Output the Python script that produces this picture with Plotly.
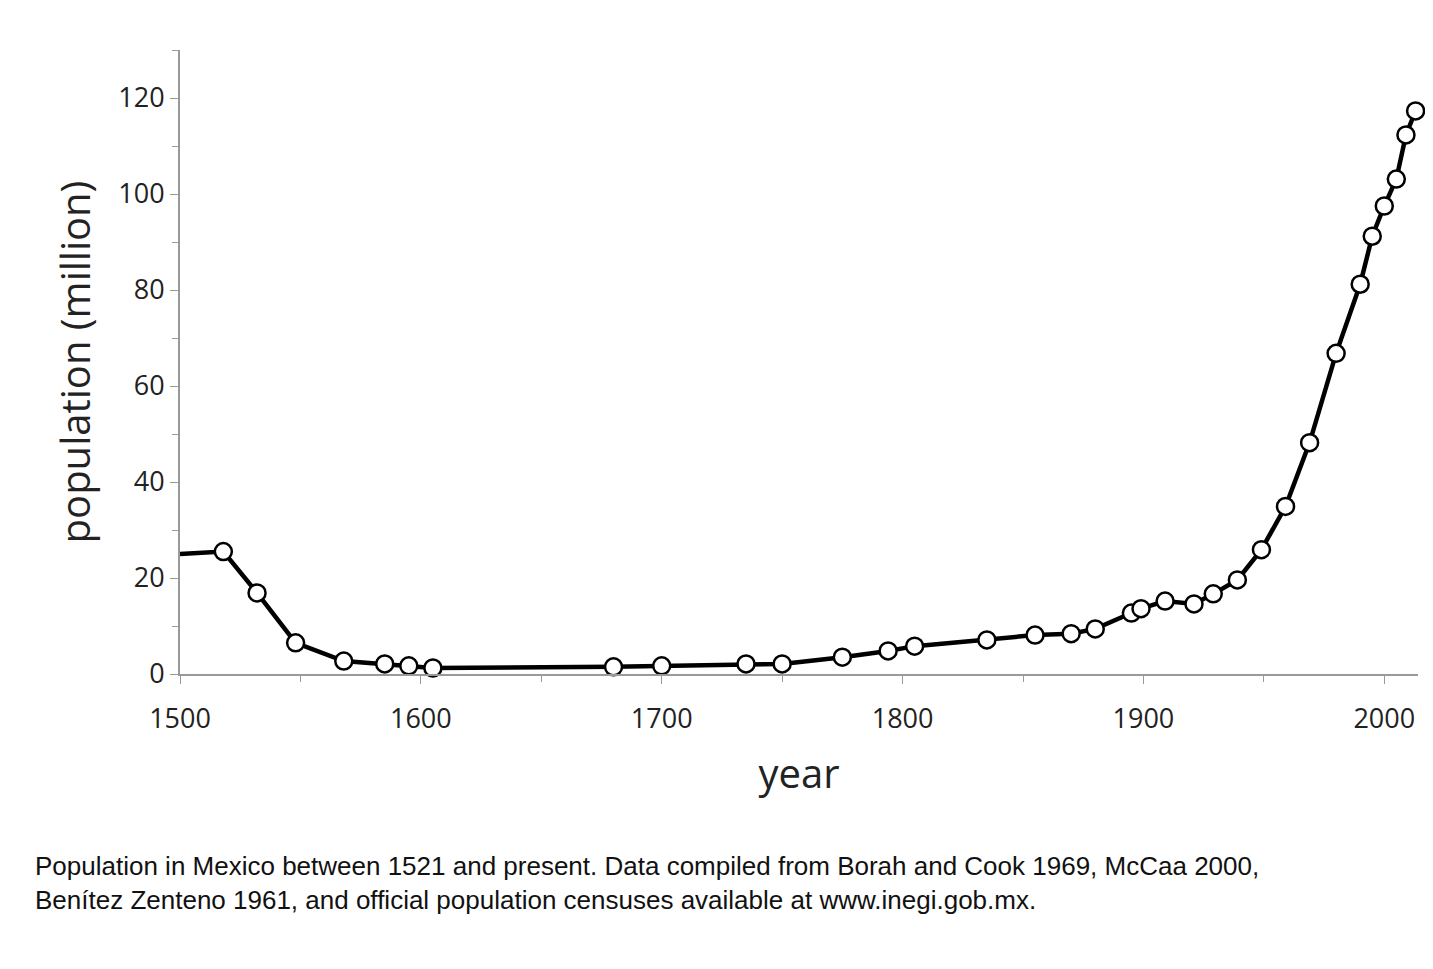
import plotly.graph_objects as go

years = [1500, 1518, 1532, 1548, 1568, 1585, 1595, 1605, 1680, 1700, 1735, 1750,
         1775, 1794, 1805, 1835, 1855, 1870, 1880, 1895, 1899, 1909, 1921, 1929,
         1939, 1949, 1959, 1969, 1980, 1990, 1995, 2000, 2005, 2009, 2013]
population = [25.0, 25.5, 16.9, 6.5, 2.7, 2.1, 1.7, 1.25, 1.5, 1.7, 2.1, 2.1,
              3.5, 4.8, 5.8, 7.1, 8.1, 8.4, 9.4, 12.7, 13.6, 15.2, 14.6, 16.7,
              19.6, 25.9, 34.9, 48.2, 66.8, 81.2, 91.2, 97.5, 103.1, 112.3, 117.3]

caption = ("Population in Mexico between 1521 and present. Data compiled from Borah and Cook 1969, McCaa 2000,<br>"
           "Benítez Zenteno 1961, and official population censuses available at www.inegi.gob.mx.")

fig = go.Figure()
# line from the axis edge, then markers only for the data points
fig.add_trace(go.Scatter(x=years, y=population, mode="lines",
                         line=dict(color="black", width=4.5), cliponaxis=False))
fig.add_trace(go.Scatter(x=years[1:], y=population[1:], mode="markers",
                         marker=dict(symbol="circle", size=17, color="white", opacity=1,
                                     line=dict(color="black", width=2.5)),
                         cliponaxis=False))

fig.update_layout(
    width=1433, height=969,
    paper_bgcolor="white", plot_bgcolor="white",
    margin=dict(l=172, r=23, t=42, b=303),
    showlegend=False,
    font=dict(family="Open Sans", color="#222"),
    annotations=[dict(text=caption, xref="paper", yref="paper", x=-0.119, y=-0.28,
                      xanchor="left", yanchor="top", showarrow=False, align="left",
                      font=dict(family="Liberation Sans", size=26, color="#111"))],
)
fig.update_xaxes(
    range=[1500, 2014], tickvals=[1500, 1600, 1700, 1800, 1900, 2000],
    showgrid=False, zeroline=False, showline=True, linecolor="#999", linewidth=2,
    ticks="outside", ticklen=8, tickcolor="#999", tickfont=dict(size=27),
    ticklabelstandoff=12,
    minor=dict(tickvals=[1550, 1650, 1750, 1850, 1950], ticks="outside", ticklen=6, tickcolor="#999"),
    title=dict(text="year", font=dict(size=40), standoff=25),
)
fig.update_yaxes(
    range=[0, 130], tickvals=[0, 20, 40, 60, 80, 100, 120],
    showgrid=False, zeroline=False, showline=True, linecolor="#999", linewidth=2,
    ticks="outside", ticklen=8, tickcolor="#999", tickfont=dict(size=27),
    minor=dict(tickvals=[10, 30, 50, 70, 90, 110, 130], ticks="outside", ticklen=6, tickcolor="#999"),
    title=dict(text="population (million)", font=dict(size=40), standoff=15),
)

fig.write_html("out.html")
